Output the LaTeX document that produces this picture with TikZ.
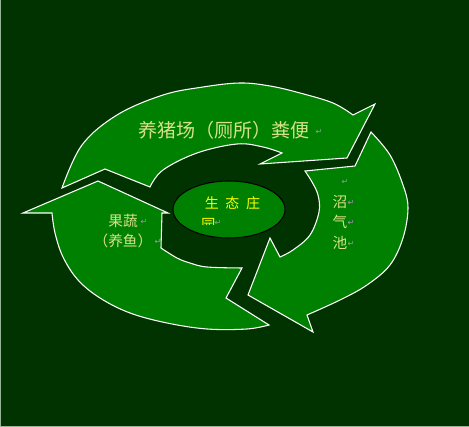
\documentclass[tikz,border=0pt]{standalone}
\usepackage{fontspec}
\newfontfamily\cjk{Noto Sans CJK SC}
\newfontfamily\sym{DejaVu Sans}
\usetikzlibrary{shapes.geometric}
\definecolor{bgdark}{RGB}{0,51,0}
\definecolor{ringgreen}{RGB}{0,128,0}
\definecolor{paletext}{RGB}{215,226,135}
\definecolor{ctrtext}{RGB}{255,255,0}
\definecolor{markgrey}{RGB}{160,150,175}
\definecolor{framegrey}{RGB}{150,180,150}
\tikzset{
  ring/.style={fill=ringgreen, draw=white, line width=0.8pt, line join=miter},
  lbl/.style={text=paletext, font=\cjk, inner sep=0pt},
  pmark/.style={text=markgrey, font=\sym\fontsize{6}{6}\selectfont, inner sep=0pt},
  hub/.style={ellipse, fill=ringgreen, draw=black, line width=0.8pt},
  hubtext/.style={text=ctrtext, font=\cjk\fontsize{10.5}{10.5}\selectfont, inner sep=0pt}
}
\begin{document}
\begin{tikzpicture}[x=0.75pt,y=-0.75pt]
\useasboundingbox (0,0) rectangle (469,427);
\fill[bgdark] (0,0) rectangle (469,427);
\draw[framegrey, line width=0.9pt] (0.5,0) -- (0.5,426.3) -- (469,426.3);

% top arrow
\path[ring] (62,188) -- (105,169) -- (150,187)
  -- plot[smooth, tension=0.6] coordinates {(150,187) (163,170) (197,153) (237,144) (263,147) (282,153)}
  -- (260,164) -- (347,158) -- (375,104) -- (353,115)
  -- plot[smooth, tension=0.6] coordinates {(353,115) (333,103) (300,93) (270,86) (240,83) (203,87) (163,95) (117,115) (82,145) (62,188)}
  -- cycle;

% right arrow
\path[ring] (305,171) -- (355,166) -- (371,132)
  -- plot[smooth, tension=0.6] coordinates {(371,132) (390,155) (403,185) (408,208) (403,238) (390,265) (367,285) (340,300) (307,315)}
  -- (313,332) -- (248,295) -- (270,238) -- (280,257)
  -- plot[smooth, tension=0.6] coordinates {(280,257) (293,250) (310,235) (319,212) (318,195) (312,182) (305,171)}
  -- cycle;

% left arrow
\path[ring] (98,181) -- (23,213) -- (52,213)
  -- plot[smooth, tension=0.6] coordinates {(52,213) (55,233) (63,257) (78,280) (100,298) (130,313) (167,323) (207,329) (247,329) (269,325)}
  -- (226,298) -- (242,268)
  -- plot[smooth, tension=0.6] coordinates {(242,268) (207,267) (190,263) (177,258) (161,248)}
  -- (162,213) -- (168,213) -- cycle;

% hub
\node[hub, minimum height=42.75pt, minimum width=84pt, inner sep=0pt] (hubnode) at (229,209.5) {};
\node[hubtext] (hubtxt) at (232.5,203) {生\hspace{5pt}态\hspace{5pt}庄};
\begin{scope}
  \clip (198,215) rectangle (220,224.3);
  \node[hubtext] (hubtxt2) at (208.5,225) {园};
\end{scope}
\node[pmark] (m0) at (218,222.5) {↵};

% labels
\node[lbl, font=\cjk\fontsize{14.3}{14.3}\selectfont] (toplbl) at (224,130) {养猪场（厕所）粪便};
\node[pmark] (m1) at (319,132) {↵};

\node[pmark] (m2) at (345,182) {↵};
\node[lbl, font=\cjk\fontsize{11}{11}\selectfont] (r1) at (340,202) {沼};
\node[pmark] (m3) at (351,203) {↵};
\node[lbl, font=\cjk\fontsize{11}{11}\selectfont] (r2) at (340,222) {气};
\node[pmark] (m4) at (351,223) {↵};
\node[lbl, font=\cjk\fontsize{11}{11}\selectfont] (r3) at (340,243) {池};
\node[pmark] (m5) at (351,244) {↵};

\node[lbl, font=\cjk\fontsize{11}{11}\selectfont] (l1) at (123,221) {果蔬};
\node[pmark] (m6) at (144,222) {↵};
\node[lbl, font=\cjk\fontsize{11}{11}\selectfont] (l2) at (123,241) {（养鱼）};
\node[pmark] (m7) at (158,242) {↵};
\end{tikzpicture}
\end{document}
